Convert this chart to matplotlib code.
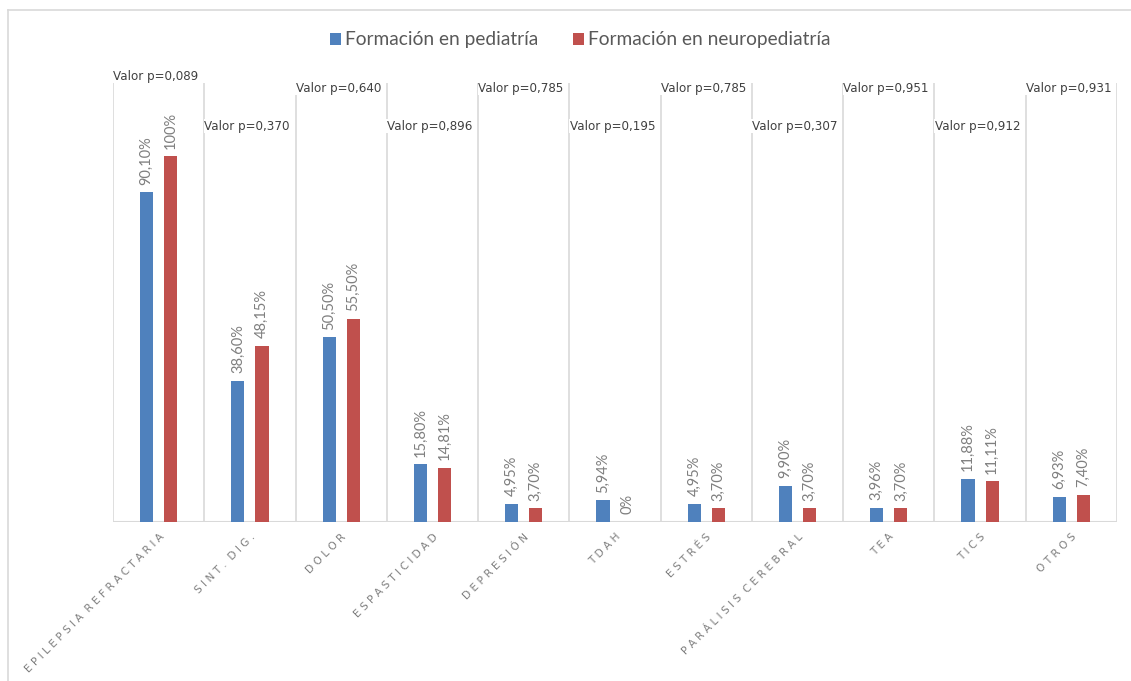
import matplotlib
matplotlib.use("Agg")
import matplotlib.pyplot as plt
from matplotlib.lines import Line2D
from matplotlib.patches import Patch
import numpy as np

categories = ["EPILEPSIA REFRACTARIA", "SINT. DIG.", "DOLOR", "ESPASTICIDAD", "DEPRESIÓN",
              "TDAH", "ESTRÉS", "PARÁLISIS CEREBRAL", "TEA", "TICS", "OTROS"]
pediatria = [90.10, 38.60, 50.50, 15.80, 4.95, 5.94, 4.95, 9.90, 3.96, 11.88, 6.93]
neuro = [100.0, 48.15, 55.50, 14.81, 3.70, 0.0, 3.70, 3.70, 3.70, 11.11, 7.40]
ped_labels = ["90,10%", "38,60%", "50,50%", "15,80%", "4,95%", "5,94%", "4,95%", "9,90%", "3,96%", "11,88%", "6,93%"]
neuro_labels = ["100%", "48,15%", "55,50%", "14,81%", "3,70%", "0%", "3,70%", "3,70%", "3,70%", "11,11%", "7,40%"]
p_values = ["0,089", "0,370", "0,640", "0,896", "0,785", "0,195", "0,785", "0,307", "0,951", "0,912", "0,931"]
series_names = ["Formación en pediatría", "Formación en neuropediatría"]

BLUE = "#4F81BD"
RED = "#C0504D"
GRID = "#D9D9D9"
TXT = "#595959"

fig = plt.figure(figsize=(11.31, 6.81), dpi=100)
ax = fig.add_axes([113/1131, 1 - 522/681, (1117 - 113)/1131, (522 - 83)/681])

x = np.arange(len(categories))
w = 0.145
off = 0.132
ax.bar(x - off, pediatria, width=w, color=BLUE, zorder=3)
ax.bar(x + off, neuro, width=w, color=RED, zorder=3)

ax.set_xlim(-0.5, len(categories) - 0.5)
ax.set_ylim(0, 120)

# vertical category gridlines
for b in np.arange(-0.5, len(categories) + 0.5, 1.0):
    ax.axvline(b, color=GRID, lw=1.2, zorder=1)
ax.axhline(0, color=GRID, lw=1.5, zorder=2)

for s in ax.spines.values():
    s.set_visible(False)
ax.set_yticks([])
ax.set_xticks(x)
ax.tick_params(axis="x", length=0, pad=7)


def track(text):
    return "  ".join(" ".join(list(word)) for word in text.split(" "))


spaced = [track(c) for c in categories]
ax.set_xticklabels(spaced, rotation=45, ha="right", va="top", rotation_mode="anchor",
                   fontsize=7.6, color="#7F7F7F", family="DejaVu Sans")

# data labels
for xi, v, lab in zip(x - off, pediatria, ped_labels):
    ax.annotate(lab, (xi, v), xytext=(0, 5.5), textcoords="offset points", rotation=90,
                ha="center", va="bottom", fontsize=10.5, color="#7F7F7F", family="Lato")
for xi, v, lab in zip(x + off, neuro, neuro_labels):
    ax.annotate(lab, (xi, v), xytext=(0, 5.5), textcoords="offset points", rotation=90,
                ha="center", va="bottom", fontsize=10.5, color="#7F7F7F", family="Lato")

# p-values
levels = [121.9] + [108.2 if i % 2 == 1 else 118.6 for i in range(1, len(categories))]
for i, (p, lv) in enumerate(zip(p_values, levels)):
    ax.text(i - 0.03, lv, "Valor p=" + p, ha="center", va="center", fontsize=8.6,
            color="#404040", family="DejaVu Sans", clip_on=False, zorder=4,
            bbox=dict(facecolor="white", edgecolor="none", pad=0.5))

# legend
handles = [Patch(facecolor=BLUE), Patch(facecolor=RED)]
fig.legend(handles, series_names, loc="center", bbox_to_anchor=(580/1131, 1 - 40/681),
           ncol=2, frameon=False, handlelength=0.6, handleheight=0.6,
           handletextpad=0.2, columnspacing=1.8, labelcolor=TXT, prop={"family": "Lato", "size": 13.8})

# chart border (top and left)
fig.add_artist(Line2D([8/1131, 1], [1 - 10/681, 1 - 10/681], color=GRID, lw=1.2))
fig.add_artist(Line2D([8/1131, 8/1131], [0, 1 - 10/681], color=GRID, lw=1.2))

fig.savefig("out.png", dpi=100, facecolor="white")
